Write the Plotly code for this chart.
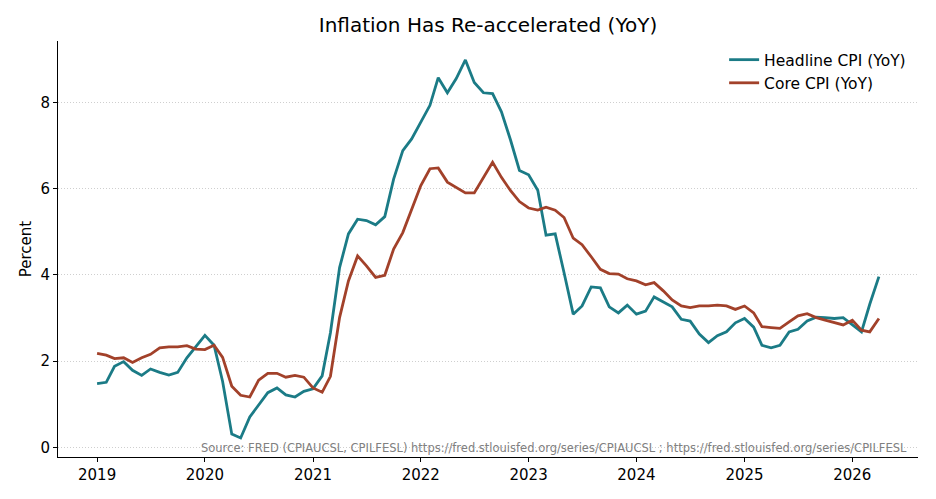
import pandas as pd
import plotly.graph_objects as go

dates = pd.date_range("2019-01-01", "2026-04-01", freq="MS")

headline_cpi = [
    1.48, 1.51, 1.88, 1.99, 1.79, 1.67, 1.82, 1.74, 1.68, 1.74, 2.08, 2.34,
    2.60, 2.37, 1.53, 0.31, 0.22, 0.71, 0.99, 1.27, 1.38, 1.22, 1.17, 1.30,
    1.36, 1.66, 2.66, 4.17, 4.95, 5.29, 5.26, 5.16, 5.35, 6.22, 6.88, 7.15,
    7.54, 7.93, 8.57, 8.22, 8.55, 8.98, 8.46, 8.22, 8.20, 7.78, 7.12, 6.42,
    6.32, 5.96, 4.92, 4.95, 4.05, 3.09, 3.28, 3.72, 3.70, 3.26, 3.12, 3.30,
    3.09, 3.16, 3.49, 3.37, 3.26, 2.97, 2.93, 2.63, 2.43, 2.59, 2.68, 2.89,
    2.99, 2.79, 2.37, 2.31, 2.37, 2.68, 2.74, 2.93, 3.02, 3.01, 2.99, 3.01,
    2.84, 2.68, 3.32, 3.96,
]

core_cpi = [
    2.18, 2.14, 2.06, 2.08, 1.97, 2.08, 2.16, 2.31, 2.33, 2.33, 2.36, 2.28,
    2.27, 2.37, 2.09, 1.42, 1.21, 1.17, 1.56, 1.72, 1.72, 1.63, 1.67, 1.63,
    1.38, 1.28, 1.65, 3.01, 3.86, 4.44, 4.21, 3.94, 3.99, 4.60, 4.98, 5.53,
    6.07, 6.46, 6.48, 6.15, 6.02, 5.90, 5.90, 6.26, 6.61, 6.26, 5.95, 5.70,
    5.55, 5.50, 5.57, 5.50, 5.33, 4.85, 4.70, 4.42, 4.13, 4.03, 4.02, 3.91,
    3.86, 3.77, 3.82, 3.63, 3.42, 3.28, 3.24, 3.28, 3.28, 3.30, 3.28, 3.20,
    3.28, 3.12, 2.80, 2.78, 2.76, 2.91, 3.05, 3.10, 3.01, 2.95, 2.89, 2.84,
    2.95, 2.72, 2.68, 2.99,
]

year_ticks = pd.date_range("2019-01-01", "2026-01-01", freq="YS")
year_labels = [str(d.year) for d in year_ticks]
y_ticks = [0, 2, 4, 6, 8]

title_text = "Inflation Has Re-accelerated (YoY)"
source_text = ("Source: FRED (CPIAUCSL, CPILFESL) https://fred.stlouisfed.org/series/CPIAUCSL ; "
               "https://fred.stlouisfed.org/series/CPILFESL")

TEAL = "#1b7b86"
RUST = "#a2412a"
FONT = "DejaVu Sans"

fig = go.Figure()
fig.add_trace(go.Scatter(x=dates, y=headline_cpi, mode="lines", name="Headline CPI (YoY)",
                         line=dict(color=TEAL, width=2.8)))
fig.add_trace(go.Scatter(x=dates, y=core_cpi, mode="lines", name="Core CPI (YoY)",
                         line=dict(color=RUST, width=2.8)))

span = dates[-1] - dates[0]
pad = span * 0.05
fig.update_layout(
    width=936, height=499,
    margin=dict(l=58, r=18, t=41, b=42),
    paper_bgcolor="white", plot_bgcolor="white",
    font=dict(family=FONT, size=15, color="black"),
    title=dict(text=title_text, x=488 / 936, xanchor="center",
               y=1 - 25 / 499, yanchor="middle", font=dict(size=20, family=FONT)),
    showlegend=True,
    legend=dict(x=0.992, xanchor="right", y=0.995, yanchor="top",
                bgcolor="rgba(255,255,255,0)", font=dict(size=15.5, family=FONT),
                tracegroupgap=0),
    xaxis=dict(range=[dates[0] - pad, dates[-1] + pad], tickvals=year_ticks, ticktext=year_labels,
               showgrid=False, zeroline=False, showline=True, linecolor="black", linewidth=1,
               ticks="outside", ticklen=4, tickcolor="black", tickfont=dict(size=15)),
    yaxis=dict(range=[-0.22, 9.42], tickvals=y_ticks, ticktext=[str(v) for v in y_ticks],
               showgrid=True, gridcolor="#cfcfcf", griddash="1px,2px", gridwidth=1,
               zeroline=False, showline=True, linecolor="black", linewidth=1,
               ticks="outside", ticklen=4, tickcolor="black", tickfont=dict(size=15),
               title=dict(text="Percent", font=dict(size=15), standoff=5)),
)

fig.add_annotation(text=source_text, xref="paper", yref="y", x=0.99, y=0.0,
                   xanchor="right", yanchor="middle", showarrow=False,
                   font=dict(size=11.5, color="#808080", family=FONT))

fig.write_html("out.html")
